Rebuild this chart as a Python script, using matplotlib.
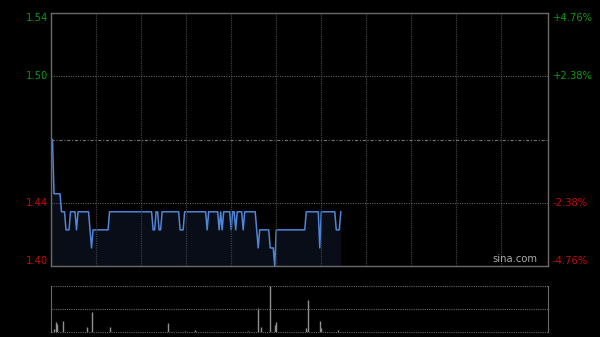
import numpy as np
import matplotlib
matplotlib.use("Agg")
import matplotlib.pyplot as plt

# --- Data ---
prev_close = 1.47

# minute-by-minute price, as runs of (price, number of minutes)
runs = [(1.47, 2), (1.44, 5), (1.43, 3), (1.42, 3), (1.43, 4), (1.42, 1),
        (1.43, 8), (1.42, 1), (1.41, 1), (1.42, 11), (1.43, 29), (1.42, 2),
        (1.43, 2), (1.42, 2), (1.43, 12), (1.42, 3), (1.43, 15), (1.42, 1),
        (1.43, 7), (1.42, 1), (1.43, 1), (1.42, 1), (1.43, 5), (1.42, 1),
        (1.43, 2), (1.42, 1), (1.43, 4), (1.42, 1), (1.43, 8), (1.42, 1),
        (1.41, 1), (1.42, 7), (1.41, 3), (1.40, 1), (1.42, 20), (1.43, 9),
        (1.41, 1), (1.43, 10), (1.42, 3), (1.43, 1)]
prices = np.concatenate([[v] * n for v, n in runs])
minutes = np.arange(len(prices))

vol_minutes = [2, 3, 4, 8, 24, 27, 39, 78, 89, 96, 131, 138, 140, 146,
               149, 150, 170, 171, 179, 180, 191]
vol_values = [3.3, 10, 8.3, 11, 5.7, 20.7, 5, 9, 1, 2.3, 1.2, 24, 5.7, 46.6,
              7.3, 10, 4, 32.7, 11, 4.3, 2.7]
vol_values = [v * 10000 for v in vol_values]

total_minutes = 331
ymin, ymax = 1.40, 1.54
left_labels = ["1.54", "1.50", "1.44", "1.40"]
right_labels = ["+4.76%", "+2.38%", "-2.38%", "-4.76%"]

# --- Figure ---
fig = plt.figure(figsize=(6, 3.37), dpi=100, facecolor="black")
ax = fig.add_axes([51 / 600, 71 / 337, 497 / 600, 253 / 337], facecolor="black")
axv = fig.add_axes([51 / 600, 4.7 / 337, 497 / 600, 46.6 / 337], facecolor="black")

grid_c = "#3c3c3c"
frame_c = "#6a6a6a"

# price panel
ax.fill_between(minutes, prices, ymin, color="#080d18", lw=0)
ax.plot(minutes, prices, color="#4f86d8", lw=1.1)
ax.set_xlim(0, total_minutes)
ax.set_ylim(ymin, ymax)
for m in range(30, 330, 30):
    ax.axvline(m, color=grid_c, lw=0.9, ls=(0, (1, 0.8)))
step = (ymax - prev_close) / 2
for y in [prev_close - step, prev_close + step]:
    ax.axhline(y, color="#707070", lw=0.7, ls=(0, (1, 1.5)))
ax.axhline(prev_close, color="#707070", lw=0.8, ls=(0, (3, 1.5, 1, 1.5)))
ax.set_xticks([])
ax.set_yticks([])
for s in ax.spines.values():
    s.set_color(frame_c)
    s.set_linewidth(1)

label_y = [ymax - 0.003, prev_close + step, prev_close - step, ymin + 0.0025]
for lbl, rl, y, c in zip(left_labels, right_labels, label_y,
                         ["#0a9a0a", "#0a9a0a", "#c80a0a", "#c80a0a"]):
    ax.text(-0.006, y, lbl, transform=ax.get_yaxis_transform(), ha="right",
            va="center", color=c, fontsize=7.2)
    ax.text(1.01, y, rl, transform=ax.get_yaxis_transform(), ha="left",
            va="center", color=c, fontsize=7.2)

ax.text(0.978, 0.006, "sina.com", transform=ax.transAxes, ha="right",
        va="bottom", color="#aaaaaa", fontsize=7.2)

# volume panel
axv.vlines(vol_minutes, 0, vol_values, color="#909090", lw=1)
axv.set_xlim(0, total_minutes)
vmax = max(vol_values)
axv.set_ylim(0, vmax)
for y in [0, vmax / 2, vmax]:
    axv.axhline(y, color="#666666", lw=0.8, ls=(0, (1, 1)), clip_on=False)
axv.set_xticks([])
axv.set_yticks([])
axv.spines["top"].set_visible(False)
axv.spines["bottom"].set_visible(False)
axv.spines["left"].set_color(frame_c)
axv.spines["right"].set_color(frame_c)

fig.savefig("out.png", dpi=100, facecolor="black")
